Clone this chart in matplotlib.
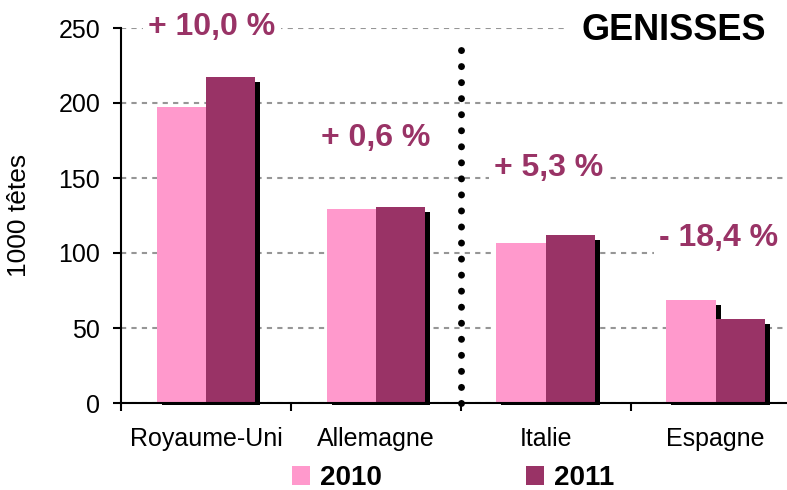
import numpy as np
import matplotlib
matplotlib.use("Agg")
import matplotlib.pyplot as plt
from matplotlib.patches import Patch
from matplotlib.transforms import ScaledTranslation

plt.rcParams['font.family'] = ['Liberation Sans', 'DejaVu Sans']

# data
countries = ["Royaume-Uni", "Allemagne", "Italie", "Espagne"]
years = ["2010", "2011"]
heads_2010 = [197, 129, 106.5, 69]
heads_2011 = [217, 130.5, 112, 56]
changes = ["+ 10,0 %", "+ 0,6 %", "+ 5,3 %", "- 18,4 %"]
title = "GENISSES"
ylabel = "1000 têtes"

pink = "#FF99CC"
plum = "#993366"

fig = plt.figure(figsize=(7.87, 4.90), dpi=100)
ax = fig.add_axes([121 / 787, 87 / 490, 666 / 787, 375 / 490])

x = np.arange(len(countries))
w = 0.29

# black drop shadow behind each bar (offset right / down), stops just under the axis
shadow = ax.transData + ScaledTranslation(5 / 100, -5 / 100, fig.dpi_scale_trans)
lift = 2.0
for xs, vals in ((x - w / 2, heads_2010), (x + w / 2, heads_2011)):
    ax.bar(xs, np.array(vals) - lift, w, bottom=lift, color="black",
           transform=shadow, zorder=2, clip_on=False)

ax.bar(x - w / 2, heads_2010, w, color=pink, zorder=3)
ax.bar(x + w / 2, heads_2011, w, color=plum, zorder=3)

ax.set_xlim(-0.5, 3.42)
ax.set_ylim(0, 250)

# dashed gridlines
ax.set_yticks([0, 50, 100, 150, 200, 250])
ax.yaxis.grid(True, color="#969696", linestyle=(0, (2.5, 2.5)), linewidth=1.5, zorder=1)
ax.set_axisbelow(True)

# dotted separator between the two groups
ax.plot([1.5, 1.5], [0, 237], color="black", linewidth=5,
        linestyle=(0, (0.01, 2.3)), dash_capstyle="round", zorder=4, clip_on=False)

# x ticks at group boundaries, labels at centres
ax.set_xticks(x - 0.5)
ax.set_xticklabels([])
ax.set_xticks(x, minor=True)
ax.set_xticklabels(countries, minor=True, fontsize=18)
ax.tick_params(axis="x", which="major", direction="out", length=6, width=1.5)
ax.tick_params(axis="x", which="minor", length=0, pad=17)
ax.tick_params(axis="y", direction="out", length=6, width=1.5, labelsize=18, pad=9)

for side in ("top", "right"):
    ax.spines[side].set_visible(False)
for side in ("left", "bottom"):
    ax.spines[side].set_linewidth(1.5)
    ax.spines[side].set_zorder(5)

ax.set_ylabel(ylabel, fontsize=19)
ax.yaxis.set_label_coords(-0.135, 0.501)

# percentage change labels
label_pos = [(0.035, 251), (1.0, 176.7), (2.018, 156.7), (3.018, 110)]
for (lx, ly), txt in zip(label_pos, changes):
    ax.text(lx, ly, txt, ha="center", va="center", fontsize=23, fontweight="bold",
            color=plum, zorder=6, clip_on=False,
            bbox=dict(facecolor="white", edgecolor="none", pad=4))

ax.text(2.753, 248, title, ha="center", va="center", fontsize=26, fontweight="bold",
        color="black", zorder=6, clip_on=False,
        bbox=dict(facecolor="white", edgecolor="none", pad=12))

handles = [Patch(facecolor=pink), Patch(facecolor=plum)]
fig.legend(handles, years, loc="center", bbox_to_anchor=(453 / 787, 1 - 478 / 490),
           ncol=2, frameon=False, prop={"size": 20, "weight": "bold"},
           handlelength=0.65, handleheight=0.65, handletextpad=0.35,
           columnspacing=5.2, borderpad=0)

fig.savefig("out.png", dpi=100)
